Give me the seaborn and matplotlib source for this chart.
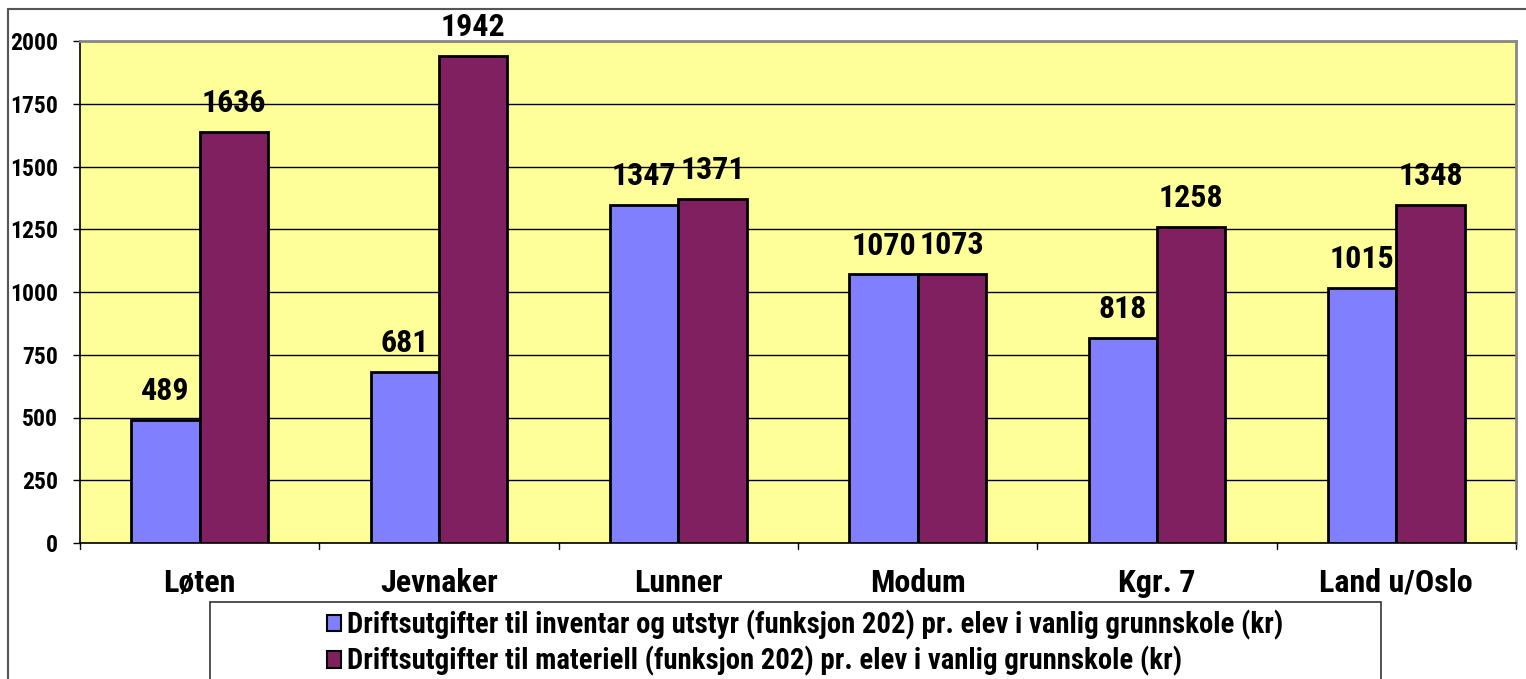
import matplotlib
matplotlib.use("Agg")
import matplotlib.pyplot as plt
import seaborn as sns
import pandas as pd
from matplotlib.patches import Rectangle
from matplotlib.lines import Line2D
from matplotlib import font_manager

categories = ["Løten", "Jevnaker", "Lunner", "Modum", "Kgr. 7", "Land u/Oslo"]
series_names = [
    "Driftsutgifter til inventar og utstyr (funksjon 202) pr. elev i vanlig grunnskole (kr)",
    "Driftsutgifter til materiell (funksjon 202) pr. elev i vanlig grunnskole (kr)",
]
inventar = [489, 681, 1347, 1070, 818, 1015]
materiell = [1636, 1942, 1371, 1073, 1258, 1348]
yticks = [0, 250, 500, 750, 1000, 1250, 1500, 1750, 2000]
colors = ["#8080FF", "#802060"]

sns.set_theme(style="white")
names = {f.name for f in font_manager.fontManager.ttflist}
fam = "Liberation Sans"
for cand in ["Liberation Sans Narrow", "Roboto Condensed", "Open Sans Condensed"]:
    if cand in names:
        fam = cand
        break
plt.rcParams["font.family"] = [fam, "DejaVu Sans"]
plt.rcParams["font.weight"] = "bold"
plt.rcParams["text.color"] = "black"
plt.rcParams["xtick.color"] = "black"
plt.rcParams["ytick.color"] = "black"
plt.rcParams["axes.labelcolor"] = "black"

df = pd.DataFrame({
    "cat": categories * 2,
    "val": inventar + materiell,
    "series": [series_names[0]] * len(categories) + [series_names[1]] * len(categories),
})

W, H = 1526, 679
fig = plt.figure(figsize=(W / 100, H / 100), dpi=100)
ax = fig.add_axes([80 / W, 1 - 543 / H, (1516 - 80) / W, (543 - 41) / H])
ax.set_facecolor("#FFFF99")

sns.barplot(data=df, x="cat", y="val", hue="series", palette=colors,
            width=0.57, edgecolor="black", linewidth=2, ax=ax, legend=False,
            saturation=1, zorder=3)

ax.set_ylim(0, 2000)
ax.set_xlim(-0.5, len(categories) - 0.5)
ax.set_yticks(yticks)
ax.set_yticklabels([str(t) for t in yticks], fontsize=17, fontweight="bold", color="black")
ax.yaxis.grid(True, color="black", linewidth=1, zorder=0)
ax.set_axisbelow(True)
ax.set_xlabel("")
ax.set_ylabel("")
ax.set_xticks(range(len(categories)))
ax.set_xticklabels(categories, fontsize=23, fontweight="bold", color="black")
ax.tick_params(axis="x", length=0, pad=18)
ax.tick_params(axis="y", length=5, width=1, color="black", left=True, direction="out", pad=11)
for xb in [i - 0.5 for i in range(len(categories) + 1)]:
    ax.plot([xb, xb], [0, -0.012], transform=ax.get_xaxis_transform(),
            color="black", lw=1, clip_on=False)

for s in ["left", "bottom"]:
    ax.spines[s].set_color("black")
    ax.spines[s].set_linewidth(1.2)
for s in ["top", "right"]:
    ax.spines[s].set_color("#888888")
    ax.spines[s].set_linewidth(2)

for cont in ax.containers:
    ax.bar_label(cont, fmt="%d", padding=10, fontsize=23, fontweight="bold", color="black")

# outer chart frame
fig.add_artist(Line2D([8 / W, 1.0], [1 - 9 / H, 1 - 9 / H], color="#555555", lw=1.5))
fig.add_artist(Line2D([8 / W, 8 / W], [1 - 9 / H, 0], color="#555555", lw=1.5))

# legend box
fig.add_artist(Rectangle((210 / W, -0.05), (1381 - 210) / W, (1 - 602 / H) + 0.05,
                         transform=fig.transFigure, facecolor="white",
                         edgecolor="#333333", lw=1.2))
handles = [Rectangle((0, 0), 1, 1, facecolor=c, edgecolor="black", lw=1.5) for c in colors]
leg = fig.legend(handles, series_names, loc="upper left",
                 bbox_to_anchor=(327 / W, 1 - 610 / H), frameon=False,
                 prop={"family": [fam, "DejaVu Sans"], "weight": "bold", "size": 20.7},
                 handlelength=0.5, handleheight=0.5, handletextpad=0.2,
                 labelspacing=0.22, borderpad=0, borderaxespad=0)
for t in leg.get_texts():
    t.set_color("black")

fig.savefig("out.png", dpi=100, facecolor="white")
